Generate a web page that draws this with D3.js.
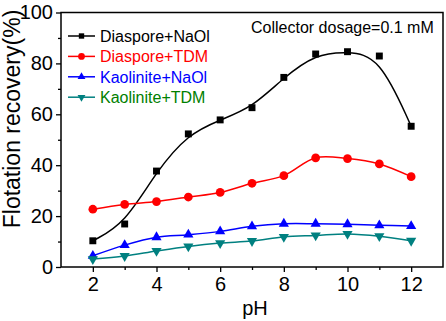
<!DOCTYPE html>
<html lang="en">
    <head>
        <meta charset="utf-8">
        <title>Flotation recovery vs pH</title>
        <script type="text/javascript" src="https://cdn.jsdelivr.net/npm/d3@7"></script>
        <style>
            body { margin: 0; background: #fff; }
            text { font-family: Arial, "Liberation Sans", sans-serif; }
        </style>
    </head>
    <body>
        <div class="chart"></div>
        <script type="text/javascript">
            // 数据
            var pH = [2, 3, 4, 5, 6, 7, 8, 9, 10, 11, 12];
            var diasporeNaOl = [10.3, 16.9, 37.7, 52.3, 57.8, 62.6, 74.5, 83.7, 84.6, 82.9, 55.3];
            var diasporeTDM = [22.7, 24.6, 25.7, 27.5, 29.3, 32.9, 35.9, 42.9, 42.6, 40.5, 35.5];
            var kaoliniteNaOl = [4.4, 8.6, 11.7, 12.7, 14.0, 16.0, 17.0, 17.0, 16.8, 16.4, 16.1];
            var kaoliniteTDM = [3.1, 4.3, 6.3, 8.1, 9.4, 10.2, 11.8, 12.4, 13.0, 12.1, 10.3];
            var seriesNames = ["Diaspore+NaOl", "Diaspore+TDM", "Kaolinite+NaOl", "Kaolinite+TDM"];
            var xTicks = [2, 4, 6, 8, 10, 12];
            var yTicks = [0, 20, 40, 60, 80, 100];

            var series = [
                {name: seriesNames[0], values: diasporeNaOl, color: "#000000", text: "#000000", symbol: d3.symbolSquare, size: 48, rot: 0, curve: d3.curveBasis},
                {name: seriesNames[1], values: diasporeTDM, color: "#ff0000", text: "#ff0000", symbol: d3.symbolCircle, size: 60, rot: 0, curve: d3.curveCatmullRom},
                {name: seriesNames[2], values: kaoliniteNaOl, color: "#0000ff", text: "#0000ff", symbol: d3.symbolTriangle, size: 45, rot: 0, curve: d3.curveCatmullRom},
                {name: seriesNames[3], values: kaoliniteTDM, color: "#008080", text: "#008000", symbol: d3.symbolTriangle, size: 45, rot: 180, curve: d3.curveCatmullRom}
            ];

            var w = 446;
            var h = 321;
            // 绘图区边界（避免使用 window.top 之类的全局名）
            var pLeft = 61, pRight = 443, pTop = 12.5, pBottom = 267;

            var svg = d3.select("body div.chart")
                        .append("svg")
                        .attr("width", w)
                        .attr("height", h);

            // 比例尺
            var xScale = d3.scaleLinear().domain([1, 13]).range([pLeft, pRight]);
            var yScale = d3.scaleLinear().domain([0, 100]).range([pBottom, pTop]);

            // 坐标轴
            var xAxis = d3.axisBottom(xScale).tickValues(xTicks).tickSize(5).tickSizeOuter(0).tickPadding(5);
            var yAxis = d3.axisLeft(yScale).tickValues(yTicks).tickSize(5).tickSizeOuter(0).tickPadding(3);
            var xMinor = d3.axisBottom(xScale).tickValues([3, 5, 7, 9, 11]).tickSize(3).tickSizeOuter(0).tickFormat("");
            var yMinor = d3.axisLeft(yScale).tickValues([10, 30, 50, 70, 90]).tickSize(3).tickSizeOuter(0).tickFormat("");

            [xAxis, xMinor].forEach(function(a){
                svg.append("g")
                   .attr("class", "x axis")
                   .attr("transform", "translate(0," + pBottom + ")")
                   .call(a);
            });
            [yAxis, yMinor].forEach(function(a){
                svg.append("g")
                   .attr("class", "y axis")
                   .attr("transform", "translate(" + pLeft + ",0)")
                   .call(a);
            });
            svg.selectAll(".axis path").remove();
            svg.selectAll(".axis line").attr("stroke", "#000").attr("stroke-width", 1.3);
            svg.selectAll(".axis text")
               .attr("font-family", "Arial, 'Liberation Sans', sans-serif")
               .attr("font-size", 20)
               .attr("fill", "#000");

            // 边框
            svg.append("rect")
               .attr("x", pLeft)
               .attr("y", pTop)
               .attr("width", pRight - pLeft)
               .attr("height", pBottom - pTop)
               .attr("fill", "none")
               .attr("stroke", "#000")
               .attr("stroke-width", 1.5);

            // 曲线和点
            series.forEach(function(s){
                var pts = pH.map(function(p, i){ return [p, s.values[i]]; });
                var line = d3.line()
                             .x(function(d){ return xScale(d[0]); })
                             .y(function(d){ return yScale(d[1]); })
                             .curve(s.curve);
                svg.append("path")
                   .datum(pts)
                   .attr("d", line)
                   .attr("fill", "none")
                   .attr("stroke", s.color)
                   .attr("stroke-width", 1.5);
                svg.selectAll(null)
                   .data(pts)
                   .enter()
                   .append("path")
                   .attr("d", d3.symbol().type(s.symbol).size(s.size))
                   .attr("transform", function(d){
                       return "translate(" + xScale(d[0]) + "," + yScale(d[1]) + ") rotate(" + s.rot + ")";
                   })
                   .attr("fill", s.color);
            });

            // 图例
            var legend = svg.append("g").attr("class", "legend");
            series.forEach(function(s, i){
                var y = 36 + i * 20.4;
                legend.append("line")
                      .attr("x1", 68).attr("x2", 95)
                      .attr("y1", y).attr("y2", y)
                      .attr("stroke", s.color)
                      .attr("stroke-width", 1.5);
                legend.append("path")
                      .attr("d", d3.symbol().type(s.symbol).size(s.size * 0.6))
                      .attr("transform", "translate(81.5," + y + ") rotate(" + s.rot + ")")
                      .attr("fill", s.color);
                legend.append("text")
                      .attr("x", 100)
                      .attr("y", y)
                      .attr("dy", "0.36em")
                      .attr("font-size", 16)
                      .attr("fill", s.text)
                      .text(s.name);
            });

            svg.append("text")
               .attr("x", 251)
               .attr("y", 33)
               .attr("font-size", 16)
               .attr("fill", "#000")
               .text("Collector dosage=0.1 mM");

            // 坐标轴标题
            svg.append("text")
               .attr("x", 255)
               .attr("y", 315)
               .attr("text-anchor", "middle")
               .attr("font-size", 20)
               .text("pH");
            svg.append("text")
               .attr("transform", "translate(20,119) rotate(-90)")
               .attr("text-anchor", "middle")
               .attr("font-size", 23)
               .text("Flotation recovery(%)");
        </script>
    </body>
</html>
